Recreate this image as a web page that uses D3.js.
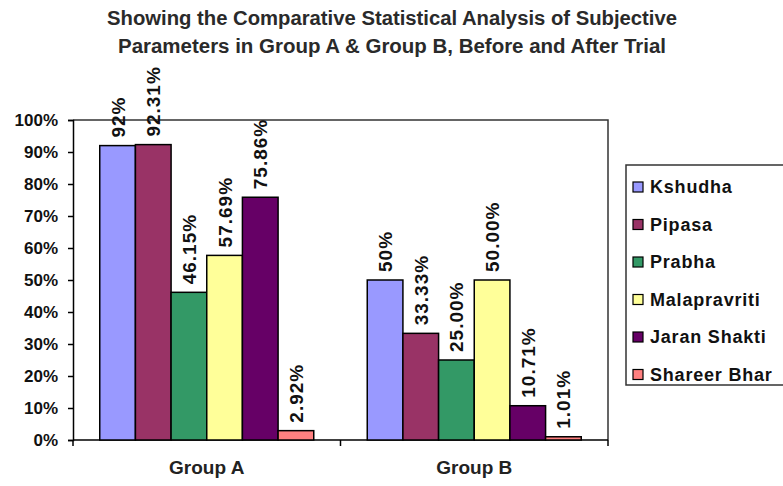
<!DOCTYPE html>
<html>
<head>
<meta charset="utf-8">
<script src="https://cdn.jsdelivr.net/npm/d3@7"></script>
<style>
  html, body { margin: 0; padding: 0; background: #fff; }
  svg { display: block; }
</style>
</head>
<body>
<svg id="chart" width="783" height="486"></svg>
<script>
// Groups on the x axis
const groups = ["Group A", "Group B"];
// Subjective parameters (one bar each per group)
const parameters = ["Kshudha", "Pipasa", "Prabha", "Malapravriti", "Jaran Shakti", "Shareer Bhar"];
// Percentage values per parameter, in group order
const kshudha = [92, 50];
const pipasa = [92.31, 33.33];
const prabha = [46.15, 25.00];
const malapravriti = [57.69, 50.00];
const jaranShakti = [75.86, 10.71];
const shareerBhar = [2.92, 1.01];
// Value labels as printed above each bar
const kshudhaLabels = ["92%", "50%"];
const pipasaLabels = ["92.31%", "33.33%"];
const prabhaLabels = ["46.15%", "25.00%"];
const malapravritiLabels = ["57.69%", "50.00%"];
const jaranShaktiLabels = ["75.86%", "10.71%"];
const shareerBharLabels = ["2.92%", "1.01%"];
// Y axis ticks
const yTicks = [0, 10, 20, 30, 40, 50, 60, 70, 80, 90, 100];
const colors = ["#9999FF", "#993366", "#339966", "#FFFF99", "#660066", "#FF8080"];

const seriesValues = [kshudha, pipasa, prabha, malapravriti, jaranShakti, shareerBhar];
const seriesLabels = [kshudhaLabels, pipasaLabels, prabhaLabels, malapravritiLabels, jaranShaktiLabels, shareerBharLabels];

const svg = d3.select("#chart");
const plot = { left: 73, right: 608, top: 120, bottom: 440 };
const font = "'Liberation Sans', Arial, sans-serif";

const x0 = d3.scaleBand().domain(groups).range([plot.left, plot.right]).paddingInner(0.2).paddingOuter(0.1);
const x1 = d3.scaleBand().domain(parameters).range([0, x0.bandwidth()]);
const y = d3.scaleLinear().domain([0, 100]).range([plot.bottom, plot.top]);
const color = d3.scaleOrdinal().domain(parameters).range(colors);

// Title
const titleLines = [
  { text: "Showing the Comparative Statistical Analysis of Subjective", y: 25, len: 570 },
  { text: "Parameters in Group A & Group B, Before and After Trial", y: 53, len: 548 }
];
svg.selectAll("text.title").data(titleLines).join("text")
  .attr("class", "title")
  .attr("x", 392).attr("y", d => d.y)
  .attr("text-anchor", "middle")
  .attr("font-family", font).attr("font-size", 20).attr("font-weight", "bold")
  .attr("fill", "#2a2a2a")
  .attr("textLength", d => d.len).attr("lengthAdjust", "spacingAndGlyphs")
  .text(d => d.text);

// Plot frame (top and right edges)
svg.append("path")
  .attr("d", `M${plot.left},${plot.top}H${plot.right}V${plot.bottom}`)
  .attr("fill", "none").attr("stroke", "#333").attr("stroke-width", 1.5);

// Y axis
const yAxis = d3.axisLeft(y).tickValues(yTicks).tickFormat(d => d + "%").tickSize(5).tickPadding(10);
const gy = svg.append("g").attr("transform", `translate(${plot.left},0)`).call(yAxis);
gy.select(".domain").attr("stroke", "#000").attr("stroke-width", 1.5);
gy.selectAll(".tick line").attr("stroke", "#000").attr("stroke-width", 1.5);
gy.selectAll(".tick text")
  .attr("font-family", font).attr("font-size", 17).attr("font-weight", "bold").attr("fill", "#111");

// X axis: tick marks sit on group boundaries, labels centred under groups
const boundaries = [plot.left, (plot.left + plot.right) / 2, plot.right];
const gx = svg.append("g").attr("transform", `translate(0,${plot.bottom})`);
gx.append("line").attr("x1", plot.left).attr("x2", plot.right)
  .attr("stroke", "#000").attr("stroke-width", 1.5);
gx.selectAll("line.tk").data(boundaries).join("line")
  .attr("class", "tk")
  .attr("x1", d => d).attr("x2", d => d).attr("y1", 0).attr("y2", 6)
  .attr("stroke", "#000").attr("stroke-width", 1.5);
gx.selectAll("text").data(groups).join("text")
  .attr("x", d => x0(d) + x0.bandwidth() / 2).attr("y", 34)
  .attr("text-anchor", "middle")
  .attr("font-family", font).attr("font-size", 19).attr("font-weight", "bold").attr("fill", "#222")
  .text(d => d);

// Bars
const rows = [];
groups.forEach((g, gi) => {
  parameters.forEach((p, pi) => {
    rows.push({ group: g, param: p, value: seriesValues[pi][gi], label: seriesLabels[pi][gi] });
  });
});

const bars = svg.append("g");
bars.selectAll("rect").data(rows).join("rect")
  .attr("x", d => x0(d.group) + x1(d.param))
  .attr("y", d => y(d.value))
  .attr("width", x1.bandwidth())
  .attr("height", d => y(0) - y(d.value))
  .attr("fill", d => color(d.param))
  .attr("stroke", "#000").attr("stroke-width", 1.5);

// Value labels, rotated upward above each bar
bars.selectAll("text").data(rows).join("text")
  .attr("transform", d => {
    const cx = x0(d.group) + x1(d.param) + x1.bandwidth() / 2 + 7;
    return `translate(${cx},${y(d.value) - 8}) rotate(-90)`;
  })
  .attr("text-anchor", "start")
  .attr("font-family", font).attr("font-size", 19).attr("font-weight", "bold")
  .attr("letter-spacing", 1)
  .attr("fill", "#111")
  .text(d => d.label);

// Legend
const legend = svg.append("g");
legend.append("rect")
  .attr("x", 626).attr("y", 165).attr("width", 170).attr("height", 220)
  .attr("fill", "#fff").attr("stroke", "#333").attr("stroke-width", 1.5);
const items = legend.selectAll("g.item").data(parameters).join("g")
  .attr("class", "item")
  .attr("transform", (d, i) => `translate(633,${187 + i * 37.5})`);
items.append("rect")
  .attr("x", 0).attr("y", -5).attr("width", 10).attr("height", 10)
  .attr("fill", d => color(d)).attr("stroke", "#000").attr("stroke-width", 1.2);
items.append("text")
  .attr("x", 17).attr("y", 0).attr("dy", "0.35em")
  .attr("font-family", font).attr("font-size", 18).attr("font-weight", "bold")
  .attr("letter-spacing", 0.8)
  .attr("fill", "#111")
  .text(d => d);
</script>
</body>
</html>
